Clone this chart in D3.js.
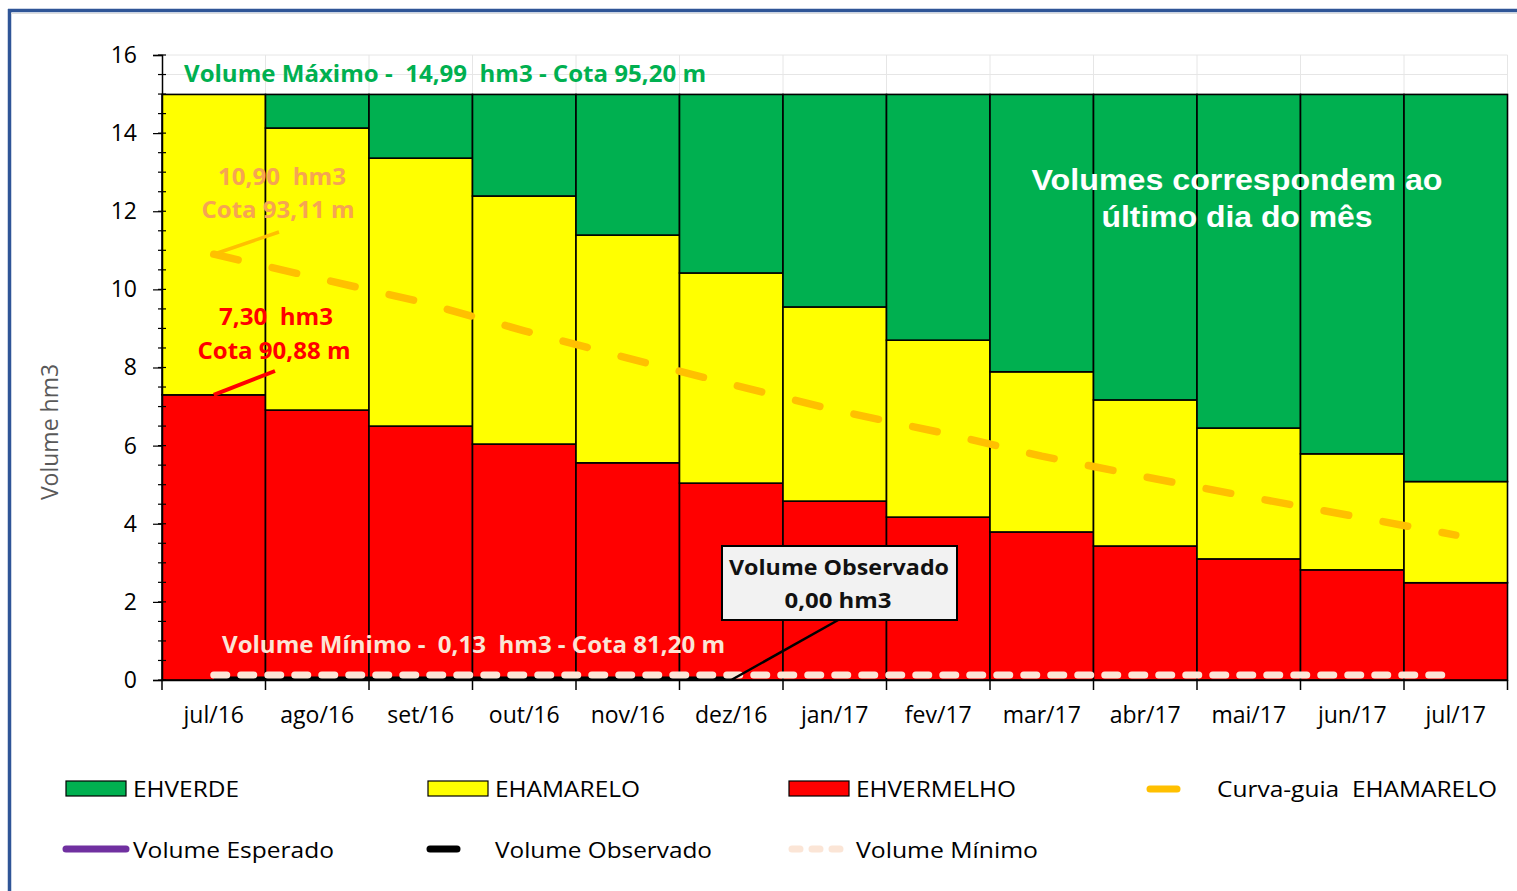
<!DOCTYPE html>
<html><head><meta charset="utf-8">
<script src="https://cdn.jsdelivr.net/npm/d3@7"></script>
<style>
html,body{margin:0;padding:0;background:#fff;}
svg{display:block;}
text{white-space:pre;}
</style></head>
<body>
<svg id="chart" width="1517" height="891"></svg>
<script>
const categories = ["jul/16","ago/16","set/16","out/16","nov/16","dez/16","jan/17","fev/17","mar/17","abr/17","mai/17","jun/17","jul/17"];
const ehVermelho = [7.30, 6.91, 6.50, 6.04, 5.56, 5.04, 4.58, 4.17, 3.79, 3.43, 3.10, 2.82, 2.49];
const ehAmarelo  = [7.69, 7.22, 6.86, 6.35, 5.83, 5.38, 4.97, 4.53, 4.10, 3.74, 3.35, 2.97, 2.59];
const ehVerde    = [0.00, 0.86, 1.63, 2.60, 3.60, 4.57, 5.44, 6.29, 7.10, 7.82, 8.54, 9.20, 9.91];
const curvaGuia  = [10.90, 10.29, 9.68, 8.94, 8.24, 7.57, 6.91, 6.35, 5.73, 5.20, 4.69, 4.20, 3.71];
const volumeObservado = [0, 0, 0, 0, 0, 0, null, null, null, null, null, null, null];
const volumeMinimo = [0.13, 0.13, 0.13, 0.13, 0.13, 0.13, 0.13, 0.13, 0.13, 0.13, 0.13, 0.13, 0.13];
const volumeEsperado = [];
const yTicks = [0, 2, 4, 6, 8, 10, 12, 14, 16];

const svg = d3.select("#chart");
const L = 162, R = 1507.5, T = 55, B = 680;
const x = d3.scaleBand().domain(categories).range([L, R]).padding(0);
const y = d3.scaleLinear().domain([0, 16]).range([B, T]);
const cx = c => x(c) + x.bandwidth() / 2;

// frame
svg.append("line").attr("x1", 8).attr("x2", 1517).attr("y1", 10.5).attr("y2", 10.5).attr("stroke", "#2F5597").attr("stroke-width", 3.5);
svg.append("line").attr("x1", 9.5).attr("x2", 9.5).attr("y1", 9).attr("y2", 891).attr("stroke", "#2F5597").attr("stroke-width", 3.5);
svg.append("line").attr("x1", 11).attr("x2", 1517).attr("y1", 13.5).attr("y2", 13.5).attr("stroke", "#ddd").attr("stroke-width", 1);

// gridlines
const g = svg.append("g");
d3.range(0, 16.01, 0.5).forEach(v => {
  g.append("line").attr("x1", L).attr("x2", R).attr("y1", y(v)).attr("y2", y(v)).attr("stroke", "#e6e6e6").attr("stroke-width", 1);
});
categories.forEach(c => {
  g.append("line").attr("x1", x(c) + x.bandwidth()).attr("x2", x(c) + x.bandwidth()).attr("y1", T).attr("y2", B).attr("stroke", "#e6e6e6");
});

// stacked bars
const stackData = categories.map((c, i) => ({cat: c, v: ehVermelho[i], a: ehAmarelo[i], g: ehVerde[i]}));
const series = d3.stack().keys(["v", "a", "g"])(stackData);
const colors = {v: "#FF0000", a: "#FFFF00", g: "#00B050"};
const bars = svg.append("g");
series.forEach(s => {
  bars.selectAll(null).data(s.filter(d => d[1] - d[0] > 0)).enter().append("rect")
    .attr("x", d => x(d.data.cat))
    .attr("width", x.bandwidth())
    .attr("y", d => y(d[1]))
    .attr("height", d => y(d[0]) - y(d[1]))
    .attr("fill", colors[s.key])
    .attr("stroke", "#000").attr("stroke-width", 1.6);
});

// clip
svg.append("clipPath").attr("id", "plotclip").append("rect").attr("x", L).attr("y", T - 5).attr("width", R - L).attr("height", B - T + 5);

const lineGen = d3.line().defined(d => d.v != null).x(d => cx(d.c)).y(d => y(d.v));
const lines = svg.append("g").attr("clip-path", "url(#plotclip)");
lines.append("path").datum(categories.map((c, i) => ({c, v: curvaGuia[i]})))
  .attr("d", lineGen).attr("fill", "none").attr("stroke", "#FFC000").attr("stroke-width", 7.5)
  .attr("stroke-linecap", "round").attr("stroke-dasharray", "25,35");
lines.append("path").datum(categories.map((c, i) => ({c, v: volumeObservado[i]})))
  .attr("d", lineGen).attr("fill", "none").attr("stroke", "#000").attr("stroke-width", 7);
lines.append("path").datum(categories.map((c, i) => ({c, v: volumeMinimo[i]})))
  .attr("d", lineGen).attr("fill", "none").attr("stroke", "#FBE5D6").attr("stroke-width", 7)
  .attr("stroke-linecap", "round").attr("stroke-dasharray", "13,14");

// axes
const yAxis = svg.append("g").attr("transform", `translate(${L},0)`)
  .call(d3.axisLeft(y).tickValues(yTicks).tickSize(9).tickPadding(16).tickFormat(d3.format("d")));
yAxis.select(".domain").attr("stroke", "#000").attr("stroke-width", 1.5);
yAxis.selectAll(".tick line").attr("stroke", "#000").attr("stroke-width", 1.2);
yAxis.selectAll(".tick text").attr("font-family", "'Open Sans', sans-serif").attr("font-size", 23).attr("fill", "#000");
d3.range(0, 16.01, 0.5).forEach(v => {
  svg.append("line").attr("x1", L - 4).attr("x2", L + 4).attr("y1", y(v)).attr("y2", y(v)).attr("stroke", "#000").attr("stroke-width", 1.2);
});

const xAxis = svg.append("g").attr("transform", `translate(0,${B})`)
  .call(d3.axisBottom(x).tickSize(0).tickPadding(27));
xAxis.select(".domain").attr("stroke", "#000").attr("stroke-width", 1.5);
xAxis.selectAll(".tick text").attr("font-family", "'Open Sans', sans-serif").attr("font-size", 23).attr("fill", "#000");
[L].concat(categories.map(c => x(c) + x.bandwidth())).forEach(xv => {
  svg.append("line").attr("x1", xv).attr("x2", xv).attr("y1", B).attr("y2", B + 10).attr("stroke", "#000").attr("stroke-width", 1.5);
});

// y label
svg.append("text").attr("transform", "translate(58,432) rotate(-90)").attr("text-anchor", "middle")
  .attr("font-family", "'Open Sans', sans-serif").attr("font-size", 23).attr("fill", "#595959").text("Volume hm3");

// annotations
function txt(xp, yp, s, opts) {
  const t = svg.append("text").attr("x", xp).attr("y", yp).text(s)
    .attr("font-family", opts.family || "'Open Sans', sans-serif")
    .attr("font-size", opts.size || 22)
    .attr("font-weight", opts.weight || "normal")
    .attr("fill", opts.fill || "#000")
    .attr("text-anchor", opts.anchor || "start");
  if (opts.len) t.attr("textLength", opts.len).attr("lengthAdjust", "spacingAndGlyphs");
  return t;
}
txt(184, 82, "Volume Máximo -  14,99  hm3 - Cota 95,20 m", {weight: "bold", size: 24, fill: "#00B050", len: 522});
txt(222, 653, "Volume Mínimo -  0,13  hm3 - Cota 81,20 m", {weight: "bold", size: 24, fill: "#FBE5D6", len: 503});

// leader lines
svg.append("line").attr("x1", cx("jul/16")).attr("y1", y(curvaGuia[0])).attr("x2", 279).attr("y2", 232).attr("stroke", "#FFC000").attr("stroke-width", 3.5);
svg.append("line").attr("x1", cx("jul/16")).attr("y1", y(ehVermelho[0])).attr("x2", 275).attr("y2", 371).attr("stroke", "#FF0000").attr("stroke-width", 4);
svg.append("line").attr("x1", cx("dez/16")).attr("y1", y(0)).attr("x2", 840).attr("y2", 619).attr("stroke", "#000").attr("stroke-width", 2.5);

txt(282, 185, "10,90  hm3", {weight: "bold", size: 24, fill: "#F6A452", anchor: "middle", len: 128});
txt(278, 218, "Cota 93,11 m", {weight: "bold", size: 24, fill: "#F6A452", anchor: "middle", len: 153});
txt(276, 325, "7,30  hm3", {weight: "bold", size: 24, fill: "#FF0000", anchor: "middle", len: 114});
txt(274, 359, "Cota 90,88 m", {weight: "bold", size: 24, fill: "#FF0000", anchor: "middle", len: 153});

// callout box
svg.append("rect").attr("x", 722).attr("y", 546).attr("width", 235).attr("height", 74).attr("fill", "#F2F2F2").attr("stroke", "#000").attr("stroke-width", 2);
txt(839, 575, "Volume Observado", {weight: "bold", size: 22, anchor: "middle", len: 220, fill: "#111"});
txt(838, 608, "0,00 hm3", {weight: "bold", size: 22, anchor: "middle", len: 107, fill: "#111"});

txt(1237, 190, "Volumes correspondem ao", {weight: "bold", size: 30, fill: "#fff", anchor: "middle", family: "'Liberation Sans', Arial, sans-serif", len: 411});
txt(1237, 227, "último dia do mês", {weight: "bold", size: 30, fill: "#fff", anchor: "middle", family: "'Liberation Sans', Arial, sans-serif", len: 271});

// legend
const lg = svg.append("g");
const legRect = [[66, "#00B050", "EHVERDE", 106], [428, "#FFFF00", "EHAMARELO", 145], [789, "#FF0000", "EHVERMELHO", 160]];
legRect.forEach(([lx, col, name, len]) => {
  lg.append("rect").attr("x", lx).attr("y", 781).attr("width", 60).attr("height", 15).attr("fill", col).attr("stroke", "#000").attr("stroke-width", 1.2);
  txt(lx + 67, 797, name, {size: 22, len: len});
});
lg.append("line").attr("x1", 1150).attr("x2", 1177).attr("y1", 789).attr("y2", 789).attr("stroke", "#FFC000").attr("stroke-width", 7).attr("stroke-linecap", "round");
txt(1217, 797, "Curva-guia  EHAMARELO", {size: 22, len: 280});
lg.append("line").attr("x1", 66).attr("x2", 126).attr("y1", 849).attr("y2", 849).attr("stroke", "#7030A0").attr("stroke-width", 7).attr("stroke-linecap", "round");
txt(133, 858, "Volume Esperado", {size: 22, len: 201});
lg.append("line").attr("x1", 430).attr("x2", 457).attr("y1", 849).attr("y2", 849).attr("stroke", "#000").attr("stroke-width", 7).attr("stroke-linecap", "round");
txt(495, 858, "Volume Observado", {size: 22, len: 217});
lg.append("line").attr("x1", 792).attr("x2", 850).attr("y1", 849).attr("y2", 849).attr("stroke", "#FBE5D6").attr("stroke-width", 7).attr("stroke-linecap", "round").attr("stroke-dasharray", "8,12");
txt(856, 858, "Volume Mínimo", {size: 22, len: 182});
</script>
</body></html>
